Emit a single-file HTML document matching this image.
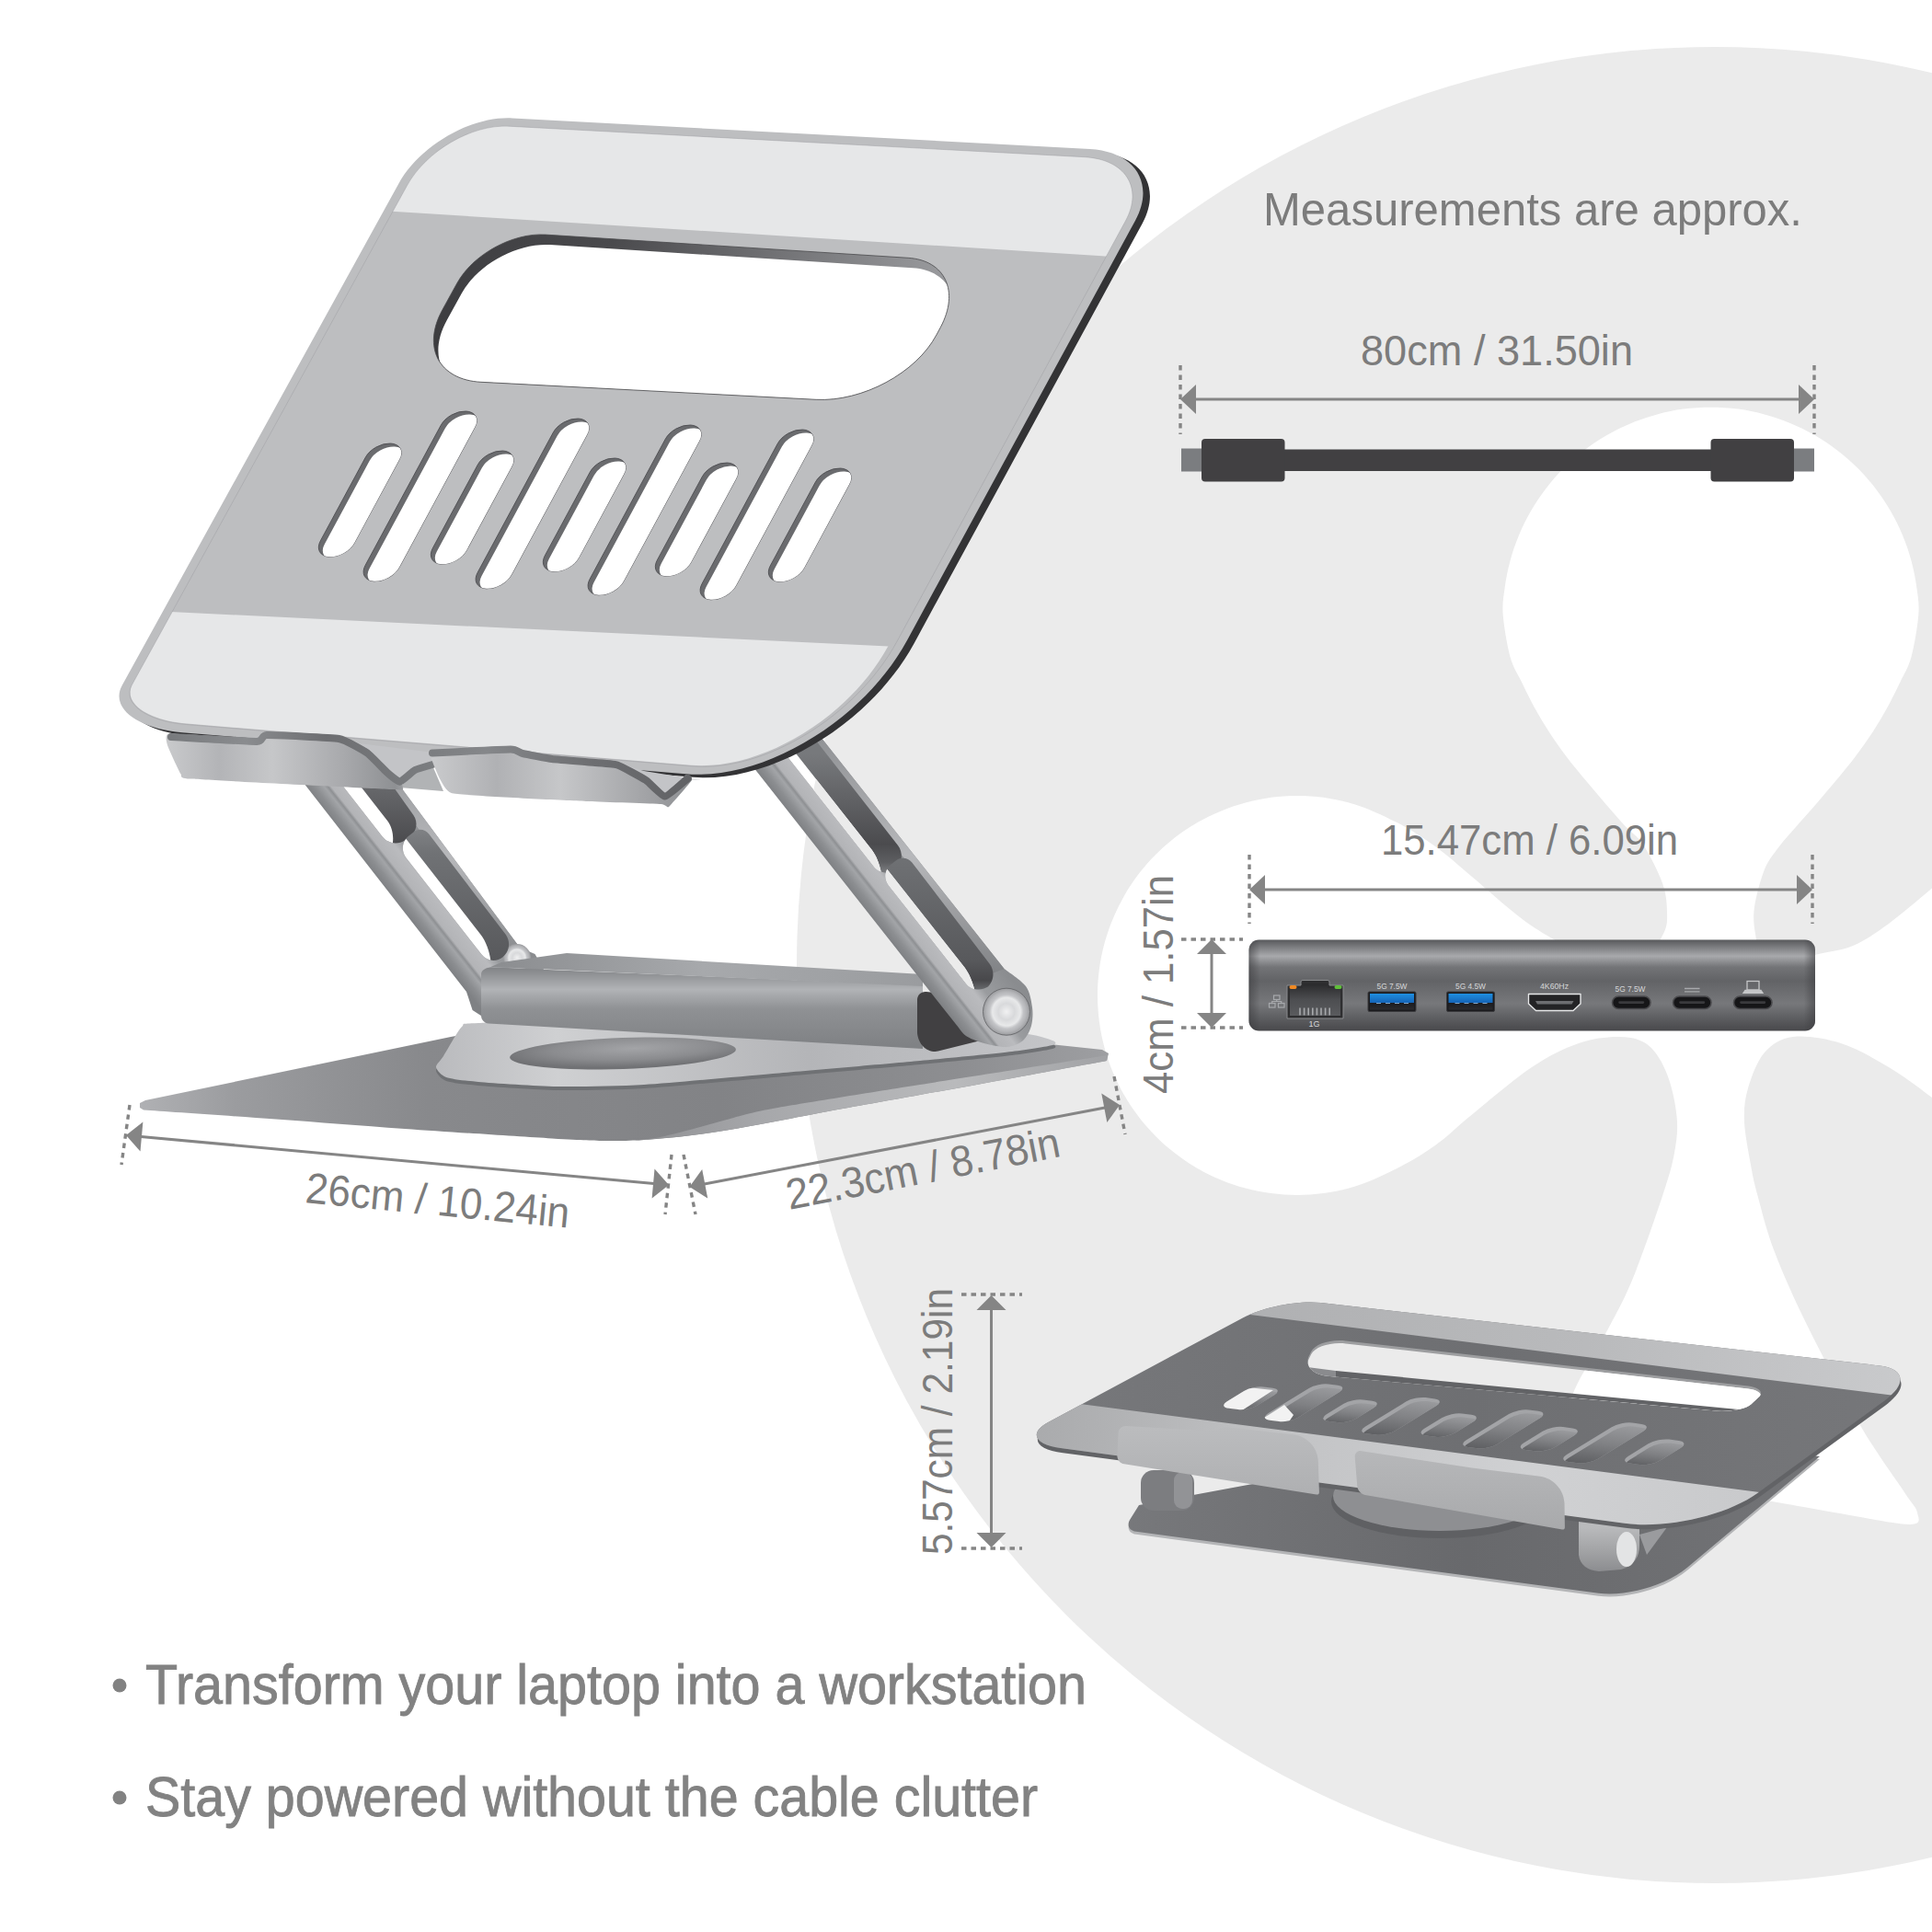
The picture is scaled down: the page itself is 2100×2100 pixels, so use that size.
<!DOCTYPE html>
<html><head><meta charset="utf-8"><title>Laptop stand dimensions</title>
<style>
html,body{margin:0;padding:0;background:#fff}
body{width:2100px;height:2100px;overflow:hidden;font-family:"Liberation Sans",sans-serif}
svg{display:block}
text{font-family:"Liberation Sans",sans-serif}
</style></head><body>
<svg width="2100" height="2100" viewBox="0 0 2100 2100">
<circle cx="1864" cy="1049" r="998" fill="#ebebeb"/>
<path d="M1633.7,668.5C1632.7,656 1634.3,648.8 1635.6,639C1636.9,629.3 1638.9,619.5 1641.4,610.1C1643.9,600.6 1647.1,591.2 1650.9,582.1C1654.6,573 1659,564.1 1664,555.6C1668.9,547.1 1674.4,538.8 1680.4,531C1686.3,523.2 1692.9,515.8 1699.8,508.8C1706.8,501.9 1714.2,495.3 1722,489.4C1729.8,483.4 1738.1,477.9 1746.6,473C1755.1,468 1764,463.6 1773.1,459.9C1782.2,456.1 1791.6,452.9 1801.1,450.4C1810.5,447.9 1820.3,445.9 1830,444.6C1839.8,443.3 1849.7,442.7 1859.5,442.7C1869.3,442.7 1879.2,443.3 1889,444.6C1898.7,445.9 1908.5,447.9 1917.9,450.4C1927.4,452.9 1936.8,456.1 1945.9,459.9C1955,463.6 1963.9,468 1972.4,473C1980.9,477.9 1989.2,483.4 1997,489.4C2004.8,495.3 2012.2,501.9 2019.2,508.8C2026.1,515.8 2032.7,523.2 2038.6,531C2044.6,538.8 2050.1,547.1 2055,555.6C2060,564.1 2064.4,573 2068.1,582.1C2071.9,591.2 2075.1,600.6 2077.6,610.1C2080.1,619.5 2082.1,629.3 2083.4,639C2084.7,648.8 2086.3,656 2085.3,668.5C2084.3,681 2080.8,701.9 2077.5,714C2074.2,726.1 2069.8,732 2065.6,741C2061.3,750 2056.9,759 2052,768C2047.1,777 2041.8,786 2036,795C2030.2,804 2023.7,813.1 2017,822C2010.3,830.9 2002.8,839.9 1995.6,848.6C1988.4,857.3 1981.2,865.7 1974,874C1966.8,882.3 1959.1,890.7 1952.4,898.4C1945.7,906.1 1939.7,912.2 1934,920C1928.3,927.8 1922.5,934 1918,945C1913.5,956 1908.7,974.3 1907,986C1905.3,997.7 1906.5,1006 1908,1015C1909.5,1024 1910.3,1034.2 1916,1040C1921.7,1045.8 1932.5,1050.3 1942,1050C1951.5,1049.7 1961,1041.7 1973,1038C1985,1034.3 2000.7,1033.7 2014,1028C2027.3,1022.3 2038.7,1014.4 2053,1004C2067.3,993.6 2082.2,980.4 2100,965.6C2117.8,950.8 2143.3,895.9 2160,915C2176.7,934.1 2200,1025.8 2200,1080C2200,1134.2 2176.7,1221.2 2160,1240C2143.3,1258.8 2117.8,1206.3 2100,1193C2082.2,1179.7 2069.5,1169.8 2053,1160C2036.5,1150.2 2018.3,1139.5 2001,1134C1983.7,1128.5 1962.8,1125.3 1949,1127C1935.2,1128.7 1926.2,1134.7 1918,1144C1909.8,1153.3 1903.7,1170.5 1900,1183C1896.3,1195.5 1895.5,1205.2 1896,1219C1896.5,1232.8 1900.6,1252.5 1903,1266C1905.4,1279.5 1906.3,1284.2 1910.6,1300C1914.9,1315.8 1919.8,1337 1929,1361C1938.2,1385 1950.3,1412.3 1966,1444C1981.7,1475.7 2005.7,1521.3 2023,1551C2040.3,1580.7 2059.8,1606.5 2070,1622C2080.2,1637.5 2083,1638.2 2084,1644C2085,1649.8 2090,1656.8 2076,1657C2062,1657.2 2025,1649.2 2000,1645C1975,1640.8 1959.3,1637.7 1926,1632C1892.7,1626.3 1833.5,1616.7 1800,1611C1766.5,1605.3 1742.2,1603.2 1725,1598C1707.8,1592.8 1699.7,1593.5 1697,1580C1694.3,1566.5 1702,1536.8 1709,1517C1716,1497.2 1728.3,1481.5 1739,1461C1749.7,1440.5 1761.7,1420.8 1773,1394C1784.3,1367.2 1799.2,1323.5 1807,1300C1814.8,1276.5 1817.4,1267.3 1820,1253C1822.6,1238.7 1823.9,1228.2 1822.6,1214C1821.3,1199.8 1817.2,1180.5 1812,1167.5C1806.8,1154.5 1800.1,1142.8 1791.5,1136C1782.9,1129.2 1773.1,1127.3 1760.5,1127C1747.9,1126.7 1731.9,1128.5 1716,1134C1700.1,1139.5 1684.3,1147.1 1665,1160C1645.7,1172.9 1617.5,1197.3 1600,1211.5C1582.5,1225.7 1573.6,1235.3 1560,1245C1546.4,1254.7 1534.1,1262.2 1518.5,1269.9C1502.9,1277.7 1484.2,1286.8 1466.2,1291.6C1448.1,1296.5 1428.7,1299 1410,1299C1391.3,1299 1371.9,1296.5 1353.8,1291.6C1335.8,1286.8 1317.7,1279.3 1301.5,1269.9C1285.3,1260.6 1269.8,1248.7 1256.6,1235.4C1243.3,1222.2 1231.4,1206.7 1222.1,1190.5C1212.7,1174.3 1205.2,1156.2 1200.4,1138.2C1195.5,1120.1 1193,1100.7 1193,1082C1193,1063.3 1195.5,1043.9 1200.4,1025.8C1205.2,1007.8 1212.7,989.7 1222.1,973.5C1231.4,957.3 1243.3,941.8 1256.6,928.6C1269.8,915.3 1285.3,903.4 1301.5,894.1C1317.7,884.7 1335.8,877.2 1353.8,872.4C1371.9,867.5 1391.3,865 1410,865C1428.7,865 1448.1,867.5 1466.2,872.4C1484.2,877.2 1502.9,886.1 1518.5,894.1C1534.1,902 1546.4,910.2 1560,920C1573.6,929.8 1584.7,940.2 1600,953C1615.3,965.8 1636.9,985.5 1652,997C1667.1,1008.5 1675.9,1013.5 1690.6,1022C1705.3,1030.5 1724.3,1044.2 1740,1048C1755.7,1051.8 1773.7,1050.5 1785,1045C1796.3,1039.5 1803.5,1023.9 1808,1015C1812.5,1006.1 1812.2,1000.7 1812,991.5C1811.8,982.3 1811.3,972.2 1807,960C1802.7,947.8 1792.7,928.3 1786,918C1779.3,907.7 1773.8,905.7 1767,898.4C1760.2,891.1 1752.6,882.3 1745.4,874C1738.2,865.7 1731,857.3 1723.8,848.6C1716.6,839.9 1709,830.9 1702.3,822C1695.6,813.1 1689.2,804 1683.4,795C1677.6,786 1672.2,777 1667.3,768C1662.4,759 1658.1,750 1653.8,741C1649.5,732 1644.8,726.1 1641.5,714C1638.2,701.9 1634.7,681 1633.7,668.5Z" fill="#fff"/>
<defs>
<linearGradient id="baseg" gradientUnits="userSpaceOnUse" x1="150" y1="1200" x2="1200" y2="1150">
 <stop offset="0" stop-color="#b0b1b4"/><stop offset="0.1" stop-color="#9b9c9f"/><stop offset="0.3" stop-color="#88898c"/><stop offset="0.6" stop-color="#828386"/><stop offset="0.85" stop-color="#8d8e91"/><stop offset="1" stop-color="#9d9ea1"/></linearGradient>
<linearGradient id="stripg" gradientUnits="userSpaceOnUse" x1="660" y1="1230" x2="1200" y2="1150">
 <stop offset="0" stop-color="#8a8b8e"/><stop offset="0.3" stop-color="#a6a7aa"/><stop offset="0.7" stop-color="#b9babc"/><stop offset="1" stop-color="#a2a3a6"/></linearGradient>
<linearGradient id="ttg" gradientUnits="userSpaceOnUse" x1="470" y1="1150" x2="1150" y2="1130">
 <stop offset="0" stop-color="#b9babd"/><stop offset="0.2" stop-color="#cfd0d2"/><stop offset="0.6" stop-color="#b4b5b8"/><stop offset="1" stop-color="#c4c5c8"/></linearGradient>
<radialGradient id="recg" cx="0.55" cy="0.35" r="0.6"><stop offset="0" stop-color="#a3a4a7"/><stop offset="0.6" stop-color="#8b8c8f"/><stop offset="1" stop-color="#707174"/></radialGradient>
<linearGradient id="barg" gradientUnits="userSpaceOnUse" x1="0" y1="1050" x2="0" y2="1135">
 <stop offset="0" stop-color="#7e8083"/><stop offset="0.3" stop-color="#b1b3b6"/><stop offset="0.55" stop-color="#8f9194"/><stop offset="1" stop-color="#808285"/></linearGradient>
<linearGradient id="bartop" gradientUnits="userSpaceOnUse" x1="530" y1="0" x2="1000" y2="0">
 <stop offset="0" stop-color="#8a8c8f"/><stop offset="0.5" stop-color="#a7a9ac"/><stop offset="1" stop-color="#9a9c9f"/></linearGradient>
<linearGradient id="armRg" gradientUnits="userSpaceOnUse" x1="934.8" y1="981" x2="995.8" y2="932.8">
 <stop offset="0" stop-color="#7f8184"/><stop offset="0.1" stop-color="#8c8e91"/><stop offset="0.21" stop-color="#a3a5a8"/><stop offset="0.25" stop-color="#8e9093"/><stop offset="0.285" stop-color="#b3b4b7"/><stop offset="0.47" stop-color="#babbbe"/><stop offset="0.6" stop-color="#9a9c9f"/><stop offset="1" stop-color="#8a8c8f"/></linearGradient>
<linearGradient id="armedge" gradientUnits="userSpaceOnUse" x1="0" y1="800" x2="0" y2="1060">
 <stop offset="0" stop-color="#909295"/><stop offset="0.5" stop-color="#b7b8bb"/><stop offset="1" stop-color="#808285"/></linearGradient>
<linearGradient id="slotdkA" gradientUnits="userSpaceOnUse" x1="0" y1="820" x2="0" y2="950">
 <stop offset="0" stop-color="#77797c"/><stop offset="0.75" stop-color="#4b4b4e"/><stop offset="0.9" stop-color="#5d5e61"/><stop offset="1" stop-color="#808285"/></linearGradient>
<linearGradient id="slotdkB" gradientUnits="userSpaceOnUse" x1="0" y1="900" x2="0" y2="1080">
 <stop offset="0" stop-color="#808285"/><stop offset="0.15" stop-color="#707275"/><stop offset="0.8" stop-color="#58595c"/><stop offset="0.92" stop-color="#48484b"/><stop offset="1" stop-color="#77797c"/></linearGradient>
<linearGradient id="armLg" gradientUnits="userSpaceOnUse" x1="430.6" y1="980" x2="491.6" y2="931.8">
 <stop offset="0" stop-color="#7f8184"/><stop offset="0.1" stop-color="#8c8e91"/><stop offset="0.21" stop-color="#a3a5a8"/><stop offset="0.25" stop-color="#8e9093"/><stop offset="0.285" stop-color="#b3b4b7"/><stop offset="0.47" stop-color="#babbbe"/><stop offset="0.6" stop-color="#9a9c9f"/><stop offset="1" stop-color="#8a8c8f"/></linearGradient>
<linearGradient id="slotdk" gradientUnits="userSpaceOnUse" x1="0" y1="820" x2="0" y2="1080">
 <stop offset="0" stop-color="#707275"/><stop offset="0.45" stop-color="#48484b"/><stop offset="0.5" stop-color="#77797c"/><stop offset="1" stop-color="#4c4c4f"/></linearGradient>
<radialGradient id="pivg" cx="0.5" cy="0.5" r="0.5"><stop offset="0" stop-color="#f1f1f2"/><stop offset="0.35" stop-color="#d8d9db"/><stop offset="0.6" stop-color="#e8e9ea"/><stop offset="0.72" stop-color="#c3c4c7"/><stop offset="0.85" stop-color="#b4b5b8"/><stop offset="1" stop-color="#9a9b9e"/></radialGradient>
<linearGradient id="hookg" gradientUnits="userSpaceOnUse" x1="180" y1="0" x2="760" y2="0">
 <stop offset="0" stop-color="#c9cacc"/><stop offset="0.1" stop-color="#b3b4b7"/><stop offset="0.2" stop-color="#c6c7c9"/><stop offset="0.33" stop-color="#a9aaad"/><stop offset="0.43" stop-color="#8e9093"/>
 <stop offset="0.5" stop-color="#c9cacc"/><stop offset="0.62" stop-color="#b0b1b4"/><stop offset="0.74" stop-color="#c6c7c9"/><stop offset="0.9" stop-color="#a2a3a6"/><stop offset="1" stop-color="#8a8c8f"/></linearGradient>
<linearGradient id="bandg" gradientUnits="userSpaceOnUse" x1="180" y1="0" x2="760" y2="0">
 <stop offset="0" stop-color="#77797c"/><stop offset="0.15" stop-color="#8a8c8f"/><stop offset="0.3" stop-color="#6d6e71"/><stop offset="0.45" stop-color="#77797c"/><stop offset="0.6" stop-color="#85878a"/><stop offset="0.8" stop-color="#6d6e71"/><stop offset="1" stop-color="#606164"/></linearGradient>
<linearGradient id="wallg" gradientUnits="userSpaceOnUse" x1="470" y1="0" x2="1030" y2="0">
 <stop offset="0" stop-color="#3d3d40"/><stop offset="0.35" stop-color="#4a4a4d"/><stop offset="1" stop-color="#9a9b9e"/></linearGradient>
</defs>
<path d="M152,1204L152,1199L158,1196L490,1127L700,1088L1198,1141L1205,1145L1203,1153C1185.8,1156.2 1133.8,1165.8 1100,1172C1066.2,1178.2 1033.3,1184 1000,1190C966.7,1196 926.7,1203.1 900,1208C873.3,1212.9 858.3,1216.1 840,1219.5C821.7,1222.9 806,1225.9 790,1228.5C774,1231.1 759,1233.2 744,1235C729,1236.8 714,1238.2 700,1239C686,1239.8 676.7,1240.2 660,1240C643.3,1239.8 636.7,1239.7 600,1237.5C563.3,1235.3 490,1230.5 440,1227C390,1223.5 347.3,1219.9 300,1216.5C252.7,1213.1 180,1208.2 156,1206.5Z" fill="url(#baseg)"/>
<path d="M1204,1147C1176.8,1151.3 1048.5,1171.3 1000,1179C951.5,1186.7 868,1199.9 840,1205C812,1210.1 802,1213.9 790,1217C778,1220.1 760,1225.4 750,1228C740,1230.6 723,1235 715,1236.5C707,1238 693.3,1239.1 690,1239.5L690,1239.5C691.7,1239.4 691,1239.8 700,1239C709,1238.2 729,1236.8 744,1235C759,1233.2 774,1231.1 790,1228.5C806,1225.9 821.7,1222.9 840,1219.5C858.3,1216.1 873.3,1212.9 900,1208C926.7,1203.1 966.7,1196 1000,1190C1033.3,1184 1066.2,1178.2 1100,1172C1133.8,1165.8 1185.8,1156.2 1203,1153Z" fill="url(#stripg)"/>
<path d="M474,1160C473.6,1157.3 478.7,1153.1 482,1148C485.3,1142.9 497.6,1120.2 502,1116C506.4,1111.8 496.9,1113.3 520,1112C543.1,1110.7 644,1104.3 700,1105C756,1105.7 952.2,1115.9 1000,1118C1047.8,1120.1 1093.2,1121.5 1110,1123C1126.8,1124.5 1140,1129.5 1144,1131C1148,1132.5 1149.1,1134.6 1144,1136C1138.9,1137.4 1116.8,1141 1100,1143C1083.2,1145 1030.3,1150.2 1000,1153C969.7,1155.8 875,1164 840,1167C805,1170 727.3,1177.4 700,1179C672.7,1180.6 627,1181.3 606,1181C585,1180.7 534.1,1177.2 520,1176C505.9,1174.8 490.4,1172.9 485,1171C479.6,1169.1 474.4,1162.7 474,1160Z" fill="#6f7174" transform="translate(0,4)"/>
<path d="M474,1160C473.6,1157.3 478.7,1153.1 482,1148C485.3,1142.9 497.6,1120.2 502,1116C506.4,1111.8 496.9,1113.3 520,1112C543.1,1110.7 644,1104.3 700,1105C756,1105.7 952.2,1115.9 1000,1118C1047.8,1120.1 1093.2,1121.5 1110,1123C1126.8,1124.5 1140,1129.5 1144,1131C1148,1132.5 1149.1,1134.6 1144,1136C1138.9,1137.4 1116.8,1141 1100,1143C1083.2,1145 1030.3,1150.2 1000,1153C969.7,1155.8 875,1164 840,1167C805,1170 727.3,1177.4 700,1179C672.7,1180.6 627,1181.3 606,1181C585,1180.7 534.1,1177.2 520,1176C505.9,1174.8 490.4,1172.9 485,1171C479.6,1169.1 474.4,1162.7 474,1160Z" fill="url(#ttg)"/>
<ellipse cx="677" cy="1145" rx="123" ry="17" fill="url(#recg)" transform="rotate(-2 677 1145)"/>
<path d="M290.3,800L507,1078L513.6,1098L526,1106L600,1070L581.5,1037L565,1030L394.4,800Z" fill="url(#armLg)"/>
<path d="M376.3,800L555.6,1030L565,1030L394.4,800Z" fill="url(#armedge)" />
<circle cx="562" cy="1041" r="15" fill="url(#pivg)"/>
<path d="M353.7,830L409.7,830L449.4,886.1C454.8,893.8 453,904.3 445.3,909.7L440.1,913.3C432.4,918.7 421.5,917 415.7,909.6Z" fill="url(#slotdkA)"/><path d="M441.5,932.4C435.7,925 437,914.3 444.4,908.5L449.5,904.4C454.7,900.3 462.2,901.3 466.2,906.5L549.5,1015.5C555.2,1023 554,1033.9 546.8,1040L546.9,1040C539.7,1046.1 529.3,1045 523.5,1037.6Z" fill="url(#slotdkB)"/>
<clipPath id="cLA"><path d="M353.7,830L409.7,830L449.4,886.1C454.8,893.8 453,904.3 445.3,909.7L440.1,913.3C432.4,918.7 421.5,917 415.7,909.6Z"/></clipPath><clipPath id="cLB"><path d="M441.5,932.4C435.7,925 437,914.3 444.4,908.5L449.5,904.4C454.7,900.3 462.2,901.3 466.2,906.5L549.5,1015.5C555.2,1023 554,1033.9 546.8,1040L546.9,1040C539.7,1046.1 529.3,1045 523.5,1037.6Z"/></clipPath>
<g clip-path="url(#cLA)"><path d="M335.9,820L364.9,820L421.2,892.2C428,900.9 429.2,915.9 424,925.6L421.6,930Z" fill="#fff"/></g>
<g clip-path="url(#cLB)"><path d="M408.2,900L424.4,890L522.8,1016.2C529.6,1024.9 534.4,1040.9 533.6,1051.9L533,1060Z" fill="#fff"/></g>
<path d="M523,1059C523,1054.6 528.4,1051.2 535,1051.5L1003,1071L1003,1140L531,1112.5C526.6,1112.2 523,1108.4 523,1104Z" fill="url(#barg)"/>
<path d="M531,1052L545,1046L616,1036L1003,1059L1003,1072L537,1051Z" fill="url(#bartop)"/>
<path d="M997,1087C997,1081.5 1001.5,1077.5 1006.9,1078.1L1070,1085L1070,1130L1019.7,1142.6C1014.3,1143.9 1007.1,1141.6 1003.5,1137.4L1002.2,1136C999.3,1132.7 997,1126.4 997,1122Z" fill="#414042"/>
<path d="M784.3,790L1040,1114.6C1041.5,1116.3 1045.8,1123.2 1050,1126C1054.2,1128.8 1061.4,1131.7 1068,1133.5C1074.6,1135.3 1087.4,1138.4 1094,1138C1100.6,1137.6 1108,1134.5 1112,1131C1116,1127.5 1119.5,1120.4 1121,1115C1122.5,1109.6 1122.9,1101.5 1122,1095C1121.1,1088.5 1119.6,1078.3 1115,1072C1110.4,1065.7 1095,1055.8 1091.5,1053L883.3,790Z" fill="url(#armRg)"/>
<path d="M873.3,790L1078.5,1058L1091.5,1053L883.3,790Z" fill="url(#armedge)"/>
<path d="M830.3,790L875.3,790L975.9,918.8C982,926.6 981,938.4 973.5,945L974.6,944C967.1,950.6 956.1,949.7 950,941.9Z" fill="url(#slotdkA)"/><path d="M966.1,962.4C960.3,955 961.7,944.5 969.3,938.9L974.4,935.1C979.7,931.2 987.3,932.3 991.3,937.5L1075.7,1047.7C1081.7,1055.6 1080.4,1067.1 1072.7,1073.5L1075.1,1071.5C1067.4,1077.9 1056.2,1076.7 1050,1068.9Z" fill="url(#slotdkB)"/>
<clipPath id="cRA"><path d="M830.3,790L875.3,790L975.9,918.8C982,926.6 981,938.4 973.5,945L974.6,944C967.1,950.6 956.1,949.7 950,941.9Z"/></clipPath><clipPath id="cRB"><path d="M966.1,962.4C960.3,955 961.7,944.5 969.3,938.9L974.4,935.1C979.7,931.2 987.3,932.3 991.3,937.5L1075.7,1047.7C1081.7,1055.6 1080.4,1067.1 1072.7,1073.5L1075.1,1071.5C1067.4,1077.9 1056.2,1076.7 1050,1068.9Z"/></clipPath>
<g clip-path="url(#cRA)"><clipPath id="cRA2"><path d="M812.4,780L834.4,780L947.3,923.3C954.2,932 959.2,947.9 958.5,959L958.2,965Z"/></clipPath><g clip-path="url(#cRA2)"><rect x="700" y="700" width="500" height="500" fill="#fff"/><circle cx="1864" cy="1049" r="998" fill="#ebebeb"/></g></g>
<g clip-path="url(#cRB)"><clipPath id="cRB2"><path d="M930.6,930L944.7,920L1048.2,1051.3C1055,1060 1060.6,1076 1060.6,1087L1060.6,1095Z"/></clipPath><g clip-path="url(#cRB2)"><rect x="700" y="700" width="500" height="500" fill="#fff"/><circle cx="1864" cy="1049" r="998" fill="#ebebeb"/></g></g>
<circle cx="1094" cy="1099.7" r="25.5" fill="url(#pivg)" stroke="#6d6e71" stroke-width="1"/>
<path d="M433,200.2C456.2,158.1 511.7,126 556.9,128.4L1184.7,162C1233.8,164.7 1255.9,199.4 1234,239.7L986,695.9C938.5,783.2 830.8,848.3 745.5,841.3L198.3,796.2C148.8,792.1 119.4,769.2 132.7,745Z" fill="#333335" transform="translate(7.5,3.5)"/>
<path d="M433,200.2C456.2,158.1 511.7,126 556.9,128.4L1184.7,162C1233.8,164.7 1255.9,199.4 1234,239.7L986,695.9C938.5,783.2 830.8,848.3 745.5,841.3L198.3,796.2C148.8,792.1 119.4,769.2 132.7,745Z" fill="#bdbec0"/>
<clipPath id="cpl"><path d="M442.5,201.6C463.3,163.9 512.8,135 553.1,137.2L1179,170.7C1223.1,173.1 1243.1,204.1 1223.5,240L975.1,697C930.8,778.5 831.1,839.3 752.4,832.8L202.9,787.5C158.9,783.9 132.3,764.5 143.5,744.2Z"/></clipPath>
<clipPath id="cpl2"><path d="M442.5,201.6C463.3,163.9 512.8,135 553.1,137.2L1172.4,170.4C1216.5,172.8 1237.3,202.2 1218.8,236.2L965.3,702.5C923.1,780.1 827.3,838 751.3,831.7L203.4,786.6C159.4,783 132.8,763.5 144,743.2Z"/></clipPath>
<g clip-path="url(#cpl)"><path d="M300,0L1400,0L1400,291L1194,278L430,230L300,222Z" fill="#e6e7e8"/></g>
<g clip-path="url(#cpl2)"><path d="M50,658.5L185,665L1100,709L1100,900L50,900Z" fill="#e6e7e8"/></g>
<path d="M442.5,201.6C463.3,163.9 512.8,135 553.1,137.2L1179,170.7C1223.1,173.1 1243.1,204.1 1223.5,240L975.1,697C930.8,778.5 831.1,839.3 752.4,832.8L202.9,787.5C158.9,783.9 132.3,764.5 143.5,744.2Z" fill="none" stroke="#9b9c9f" stroke-width="1" opacity=".45"/>
<path d="M496.7,308C514,276.5 557,252.9 592.9,255.1L987.1,280.3C1027.4,282.9 1043.2,316.6 1022.4,355.6L1017.9,364C995.9,405.4 937.3,436.9 887.1,434.3L522.9,415.3C477.1,412.9 458.3,377.7 481,336.5Z" fill="url(#wallg)"/>
<clipPath id="cbig"><path d="M496.7,308C514,276.5 557,252.9 592.9,255.1L987.1,280.3C1027.4,282.9 1043.2,316.6 1022.4,355.6L1017.9,364C995.9,405.4 937.3,436.9 887.1,434.3L522.9,415.3C477.1,412.9 458.3,377.7 481,336.5Z"/></clipPath><g clip-path="url(#cbig)"><path d="M496.7,308C514,276.5 557,252.9 592.9,255.1L987.1,280.3C1027.4,282.9 1043.2,316.6 1022.4,355.6L1017.9,364C995.9,405.4 937.3,436.9 887.1,434.3L522.9,415.3C477.1,412.9 458.3,377.7 481,336.5Z" fill="#fff" transform="translate(5,11)"/></g>
<g fill="#6a6b6e" stroke="#4a4a4d" stroke-width="0.8"><rect x="-18.5" y="0" width="37" height="210" rx="18.5" transform="matrix(1 0.054 -0.475 0.88 506.5 447)"/><rect x="-18.5" y="0" width="37" height="210" rx="18.5" transform="matrix(1 0.054 -0.475 0.88 628.5 455)"/><rect x="-18.5" y="0" width="37" height="210" rx="18.5" transform="matrix(1 0.054 -0.475 0.88 750.5 462)"/><rect x="-18.5" y="0" width="37" height="210" rx="18.5" transform="matrix(1 0.054 -0.475 0.88 872.5 467)"/><rect x="-18.5" y="0" width="37" height="140" rx="18.5" transform="matrix(1 0.054 -0.475 0.88 424.5 482)"/><rect x="-18.5" y="0" width="37" height="140" rx="18.5" transform="matrix(1 0.054 -0.475 0.88 546.5 490)"/><rect x="-18.5" y="0" width="37" height="140" rx="18.5" transform="matrix(1 0.054 -0.475 0.88 668.5 498)"/><rect x="-18.5" y="0" width="37" height="140" rx="18.5" transform="matrix(1 0.054 -0.475 0.88 790.5 503)"/><rect x="-18.5" y="0" width="37" height="140" rx="18.5" transform="matrix(1 0.054 -0.475 0.88 913.5 509)"/></g>
<clipPath id="csl"><rect x="-18.5" y="0" width="37" height="210" rx="18.5" transform="matrix(1 0.054 -0.475 0.88 506.5 447)"/><rect x="-18.5" y="0" width="37" height="210" rx="18.5" transform="matrix(1 0.054 -0.475 0.88 628.5 455)"/><rect x="-18.5" y="0" width="37" height="210" rx="18.5" transform="matrix(1 0.054 -0.475 0.88 750.5 462)"/><rect x="-18.5" y="0" width="37" height="210" rx="18.5" transform="matrix(1 0.054 -0.475 0.88 872.5 467)"/><rect x="-18.5" y="0" width="37" height="140" rx="18.5" transform="matrix(1 0.054 -0.475 0.88 424.5 482)"/><rect x="-18.5" y="0" width="37" height="140" rx="18.5" transform="matrix(1 0.054 -0.475 0.88 546.5 490)"/><rect x="-18.5" y="0" width="37" height="140" rx="18.5" transform="matrix(1 0.054 -0.475 0.88 668.5 498)"/><rect x="-18.5" y="0" width="37" height="140" rx="18.5" transform="matrix(1 0.054 -0.475 0.88 790.5 503)"/><rect x="-18.5" y="0" width="37" height="140" rx="18.5" transform="matrix(1 0.054 -0.475 0.88 913.5 509)"/></clipPath><g clip-path="url(#csl)"><g fill="#fff" transform="translate(4.5,3.5)"><rect x="-18.5" y="0" width="37" height="210" rx="18.5" transform="matrix(1 0.054 -0.475 0.88 506.5 447)"/><rect x="-18.5" y="0" width="37" height="210" rx="18.5" transform="matrix(1 0.054 -0.475 0.88 628.5 455)"/><rect x="-18.5" y="0" width="37" height="210" rx="18.5" transform="matrix(1 0.054 -0.475 0.88 750.5 462)"/><rect x="-18.5" y="0" width="37" height="210" rx="18.5" transform="matrix(1 0.054 -0.475 0.88 872.5 467)"/><rect x="-18.5" y="0" width="37" height="140" rx="18.5" transform="matrix(1 0.054 -0.475 0.88 424.5 482)"/><rect x="-18.5" y="0" width="37" height="140" rx="18.5" transform="matrix(1 0.054 -0.475 0.88 546.5 490)"/><rect x="-18.5" y="0" width="37" height="140" rx="18.5" transform="matrix(1 0.054 -0.475 0.88 668.5 498)"/><rect x="-18.5" y="0" width="37" height="140" rx="18.5" transform="matrix(1 0.054 -0.475 0.88 790.5 503)"/><rect x="-18.5" y="0" width="37" height="140" rx="18.5" transform="matrix(1 0.054 -0.475 0.88 913.5 509)"/></g></g>
<path d="M496.7,308C514,276.5 557,252.9 592.9,255.1L987.1,280.3C1027.4,282.9 1043.2,316.6 1022.4,355.6L1017.9,364C995.9,405.4 937.3,436.9 887.1,434.3L522.9,415.3C477.1,412.9 458.3,377.7 481,336.5Z" fill="none" stroke="#4a4a4d" stroke-width="0.8"/>
<path d="M390,808L472,818L472,832L451,838L436,852L420,839L399.5,818.7Z" fill="#c3c4c7"/>
<path d="M434,856L451,838L470,832L482,860Z" fill="#b1b3b5"/>
<path d="M184,797.5C189.7,797.1 273.2,802.6 279.4,802.5C285.6,802.4 284.6,795.7 289.8,795.5C295,795.3 361.9,798.4 368.4,799.5C374.9,800.6 397.9,812.9 401,815C404.1,817.1 420,834 422,836C424,838 435.1,848.7 436,850C436.9,851.3 438.6,857.5 438,858C437.4,858.5 439.5,858.7 426,858C412.5,857.3 220.4,847.6 207,846.6C193.6,845.6 198.1,843.6 196.6,841.5C195.1,839.4 182.7,812.6 182,810C181.3,807.4 178.3,797.9 184,797.5Z" fill="url(#hookg)"/>
<path d="M186,801C192.2,801.3 272.5,806.1 279.4,806C286.3,805.9 283.9,799.2 289.8,799C295.7,798.8 361.1,801.7 368.4,803C375.7,804.3 396.1,816.3 399.5,818.7C402.9,821.1 417.7,836.9 420,839C422.3,841.1 432.6,849.8 434.7,849.7C436.8,849.6 448.6,838.2 451,837C453.4,835.8 468.7,831.4 470,831" fill="none" stroke="url(#bandg)" stroke-width="8" stroke-linejoin="round" stroke-linecap="round"/>
<path d="M660,826L700,838L762,848L748,847L723,867L702,849L671,832Z" fill="#c3c4c7"/>
<path d="M467.8,815C472.9,814.4 549.2,811 555,811C560.8,811 565.4,814.4 568,815C570.6,815.6 595.8,820.4 600,821C604.2,821.6 635.9,824.1 640,824.5C644.1,824.9 667.2,826.3 671,827.5C674.8,828.7 702,843 705,845C708,847 720.6,862.2 723,862C725.4,861.8 744.3,842.8 746,842C747.7,841.2 753.1,846 752,848C750.9,850 728.9,875.5 727,877C725.1,878.5 723.8,874.4 718.7,874C713.6,873.6 653.3,871.7 640,871C626.7,870.3 500.6,864.9 490.6,862C480.6,859.1 469.1,824.7 467.8,822C466.5,819.3 462.7,815.6 467.8,815Z" fill="url(#hookg)"/>
<path d="M470,818.5C475.7,818.2 548.5,814.5 555,814.5C561.5,814.5 565,818.3 568,819C571,819.7 595.2,824.4 600,825C604.8,825.6 635.3,828 640,828.4C644.7,828.8 666.9,830.2 671,831.5C675.1,832.8 698.5,845.7 702,848C705.5,850.3 719.8,865.7 722.8,865.6C725.8,865.5 746,847.3 747.7,846" fill="none" stroke="url(#bandg)" stroke-width="8" stroke-linejoin="round" stroke-linecap="round"/>
<rect x="1284" y="487.5" width="24" height="25" fill="#7b7d80"/><rect x="1948" y="487.5" width="24" height="25" fill="#7b7d80"/>
<rect x="1390" y="488.5" width="480" height="23.5" fill="#414042"/>
<rect x="1306" y="477" width="90.5" height="46.5" rx="4" fill="#414042"/><rect x="1859.5" y="477" width="90.5" height="46.5" rx="4" fill="#414042"/>
<defs><linearGradient id="dockg" x1="0" y1="0" x2="0" y2="1">
<stop offset="0" stop-color="#58595c"/><stop offset="0.18" stop-color="#a8a9ac"/><stop offset="0.3" stop-color="#737477"/><stop offset="0.45" stop-color="#626366"/><stop offset="0.7" stop-color="#77787b"/><stop offset="0.86" stop-color="#5d5e61"/><stop offset="1" stop-color="#48484b"/></linearGradient><linearGradient id="dockh" x1="0" y1="0" x2="1" y2="0"><stop offset="0" stop-color="#3a3a3d" stop-opacity=".55"/><stop offset="0.02" stop-color="#3a3a3d" stop-opacity="0"/><stop offset="0.98" stop-color="#3a3a3d" stop-opacity="0"/><stop offset="1" stop-color="#3a3a3d" stop-opacity=".55"/></linearGradient></defs>
<rect x="1357.5" y="1021.5" width="615.5" height="99" rx="11" fill="url(#dockg)"/><rect x="1357.5" y="1021.5" width="615.5" height="99" rx="11" fill="url(#dockh)"/>
<defs>
<linearGradient id="usbb" x1="0" y1="0" x2="0" y2="1"><stop offset="0" stop-color="#1f8fe0"/><stop offset="0.55" stop-color="#1565b8"/><stop offset="0.56" stop-color="#1b1b1e"/><stop offset="1" stop-color="#2b2b2e"/></linearGradient>
<linearGradient id="rjg" x1="0" y1="0" x2="0" y2="1"><stop offset="0" stop-color="#2a2a2c"/><stop offset="0.5" stop-color="#4d4e51"/><stop offset="1" stop-color="#5a5b5e"/></linearGradient>
</defs>
<g fill="none" stroke="#a7a9ac" stroke-width="1.2"><rect x="1384.5" y="1082" width="6.5" height="4.5"/><rect x="1379.5" y="1090.5" width="6.5" height="4.5"/><rect x="1389.5" y="1090.5" width="6.5" height="4.5"/><path d="M1387.7,1086.5V1088.5M1382.7,1090.5V1088.5H1392.7V1090.5"/></g>
<path d="M1399,1071H1414V1067Q1414,1065.5 1416,1065.5H1443Q1445,1065.5 1445,1067V1071H1460V1107H1399Z" fill="#2e2e30" stroke="#8a8b8e" stroke-width="1"/>
<path d="M1402,1074H1416V1069.5H1443V1074H1457V1104H1402Z" fill="url(#rjg)"/>
<g stroke="#a7a9ac" stroke-width="1.6"><line x1="1413" y1="1095.5" x2="1413" y2="1103.5"/><line x1="1417.6" y1="1095.5" x2="1417.6" y2="1103.5"/><line x1="1422.2" y1="1095.5" x2="1422.2" y2="1103.5"/><line x1="1426.8" y1="1095.5" x2="1426.8" y2="1103.5"/><line x1="1431.4" y1="1095.5" x2="1431.4" y2="1103.5"/><line x1="1436" y1="1095.5" x2="1436" y2="1103.5"/><line x1="1440.6" y1="1095.5" x2="1440.6" y2="1103.5"/><line x1="1445.2" y1="1095.5" x2="1445.2" y2="1103.5"/></g>
<rect x="1401.5" y="1071" width="8" height="4" rx="2" fill="#f08a24"/><rect x="1450.5" y="1071" width="8" height="4" rx="2" fill="#5fbf3a"/>
<text x="1428.5" y="1116" font-size="9" fill="#d6d7d9" text-anchor="middle">1G</text>
<rect x="1487" y="1078" width="52" height="21.5" rx="1.5" fill="#1b1b1e" stroke="#3a3a3d" stroke-width="1"/>
<rect x="1489" y="1080" width="48" height="17.5" fill="url(#usbb)"/>
<path d="M1496,1090.5h5m5,0h5m5,0h5m5,0h5" stroke="#9ec9f0" stroke-width="1.2" opacity=".8"/>
<text x="1513" y="1075" font-size="9.5" fill="#d6d7d9" text-anchor="middle" textLength="33" lengthAdjust="spacingAndGlyphs">5G 7.5W</text>
<rect x="1572.5" y="1078" width="52" height="21.5" rx="1.5" fill="#1b1b1e" stroke="#3a3a3d" stroke-width="1"/>
<rect x="1574.5" y="1080" width="48" height="17.5" fill="url(#usbb)"/>
<path d="M1581.5,1090.5h5m5,0h5m5,0h5m5,0h5" stroke="#9ec9f0" stroke-width="1.2" opacity=".8"/>
<text x="1598.5" y="1075" font-size="9.5" fill="#d6d7d9" text-anchor="middle" textLength="33" lengthAdjust="spacingAndGlyphs">5G 4.5W</text>
<path d="M1661.5,1080.5H1718V1091L1710,1098.5H1669.5L1661.5,1091Z" fill="#232325" stroke="#e6e7e8" stroke-width="1.4" stroke-linejoin="round"/>
<path d="M1669,1088H1710.5L1708.5,1091.5H1671Z" fill="#6d6e71"/>
<text x="1689.5" y="1075" font-size="9.5" fill="#d6d7d9" text-anchor="middle" textLength="31" lengthAdjust="spacingAndGlyphs">4K60Hz</text>
<rect x="1752.5" y="1083" width="41.5" height="13.5" rx="6.7" fill="#161618" stroke="#4a4a4d" stroke-width="1.6"/>
<rect x="1759.2" y="1088.3" width="28" height="2.6" rx="1.3" fill="#3a3a3d"/>
<rect x="1818.5" y="1083" width="41.5" height="13.5" rx="6.7" fill="#161618" stroke="#4a4a4d" stroke-width="1.6"/>
<rect x="1825.2" y="1088.3" width="28" height="2.6" rx="1.3" fill="#3a3a3d"/>
<rect x="1884.5" y="1083" width="41.5" height="13.5" rx="6.7" fill="#161618" stroke="#4a4a4d" stroke-width="1.6"/>
<rect x="1891.2" y="1088.3" width="28" height="2.6" rx="1.3" fill="#3a3a3d"/>
<text x="1772" y="1078" font-size="9.5" fill="#d6d7d9" text-anchor="middle" textLength="33" lengthAdjust="spacingAndGlyphs">5G 7.5W</text>
<path d="M1831,1074.5H1847.5M1831,1077.8H1847.5" stroke="#a7a9ac" stroke-width="1.3"/>
<g fill="none" stroke="#c5c6c8" stroke-width="1.3"><rect x="1899" y="1066.5" width="13" height="9.5"/><path d="M1895,1079.3H1916L1914,1076.5H1897Z" fill="#c5c6c8"/></g>
<defs>
<linearGradient id="fbase" gradientUnits="userSpaceOnUse" x1="1230" y1="1650" x2="1960" y2="1650">
 <stop offset="0" stop-color="#77787b"/><stop offset="0.5" stop-color="#68696c"/><stop offset="1" stop-color="#727376"/></linearGradient>
<linearGradient id="fmid" gradientUnits="userSpaceOnUse" x1="1130" y1="1500" x2="2070" y2="1560">
 <stop offset="0" stop-color="#77787b"/><stop offset="0.5" stop-color="#6e6f72"/><stop offset="1" stop-color="#76777a"/></linearGradient>
<linearGradient id="fback" gradientUnits="userSpaceOnUse" x1="1380" y1="1420" x2="2070" y2="1500">
 <stop offset="0" stop-color="#b0b1b3"/><stop offset="0.5" stop-color="#b9babc"/><stop offset="1" stop-color="#c9cacc"/></linearGradient>
<linearGradient id="ffront" gradientUnits="userSpaceOnUse" x1="1120" y1="1560" x2="1900" y2="1640">
 <stop offset="0" stop-color="#a9aaac"/><stop offset="0.35" stop-color="#c2c3c5"/><stop offset="0.7" stop-color="#d0d1d3"/><stop offset="1" stop-color="#c9cacc"/></linearGradient>
<linearGradient id="fhook" gradientUnits="userSpaceOnUse" x1="0" y1="1550" x2="0" y2="1660">
 <stop offset="0" stop-color="#bbbcbe"/><stop offset="0.5" stop-color="#b2b3b5"/><stop offset="1" stop-color="#a9aaac"/></linearGradient>
<linearGradient id="fslot" gradientUnits="userSpaceOnUse" x1="0" y1="1500" x2="0" y2="1595">
 <stop offset="0" stop-color="#96979a"/><stop offset="0.5" stop-color="#7e7f82"/><stop offset="1" stop-color="#5c5d60"/></linearGradient>
<linearGradient id="fslot2" x1="0" y1="0" x2="0" y2="1"><stop offset="0" stop-color="#999a9d"/><stop offset="0.45" stop-color="#808184"/><stop offset="1" stop-color="#595a5d"/></linearGradient>
<linearGradient id="froll" gradientUnits="userSpaceOnUse" x1="0" y1="1660" x2="0" y2="1710">
 <stop offset="0" stop-color="#b9babc"/><stop offset="0.5" stop-color="#a3a4a6"/><stop offset="1" stop-color="#8a8b8e"/></linearGradient>
</defs>
<path d="M1238,1636L1228.5,1651.2C1224.3,1657.7 1227.2,1663.8 1234.9,1664.8L1737.5,1731.7C1767.6,1735.8 1810.9,1723.2 1834.1,1703.7L1978,1583L1700,1550Z" fill="#b4b5b7" transform="translate(0,3)"/>
<path d="M1238,1636L1228.5,1651.2C1224.3,1657.7 1227.2,1663.8 1234.9,1664.8L1737.5,1731.7C1767.6,1735.8 1810.9,1723.2 1834.1,1703.7L1978,1583L1700,1550Z" fill="url(#fbase)"/>
<ellipse cx="1565" cy="1632" rx="118" ry="40" fill="#5f6063"/><ellipse cx="1565" cy="1626" rx="116" ry="38" fill="#8e8f92"/>
<rect x="1240" y="1598" width="58" height="44" rx="14" fill="#7c7d80"/><rect x="1276" y="1600" width="20" height="40" rx="9" fill="#929396"/>
<path d="M1716,1650L1716,1690Q1718,1706 1738,1708L1762,1706Q1782,1700 1782,1680L1782,1650Z" fill="url(#froll)"/><ellipse cx="1768" cy="1684" rx="11" ry="19" fill="#e3e4e5"/>
<path d="M1782,1668L1812,1660L1790,1690Z" fill="#9a9b9e"/>
<path d="M1351.3,1432.3C1373.2,1420.5 1411,1413.3 1435.7,1416L2043.3,1484.4C2070.8,1487.5 2073.1,1504.5 2048.5,1522.4L1910.6,1622.8C1877.1,1647.2 1812.3,1662 1765.7,1655.8L1154.5,1574.3C1124.4,1570.3 1117.8,1557.5 1139.7,1545.7Z" fill="#626366" transform="translate(1,5)"/>
<path d="M1351.3,1432.3C1373.2,1420.5 1411,1413.3 1435.7,1416L2043.3,1484.4C2070.8,1487.5 2073.1,1504.5 2048.5,1522.4L1910.6,1622.8C1877.1,1647.2 1812.3,1662 1765.7,1655.8L1154.5,1574.3C1124.4,1570.3 1117.8,1557.5 1139.7,1545.7Z" fill="url(#fmid)"/>
<clipPath id="cfp"><path d="M1351.3,1432.3C1373.2,1420.5 1411,1413.3 1435.7,1416L2043.3,1484.4C2070.8,1487.5 2073.1,1504.5 2048.5,1522.4L1910.6,1622.8C1877.1,1647.2 1812.3,1662 1765.7,1655.8L1154.5,1574.3C1124.4,1570.3 1117.8,1557.5 1139.7,1545.7Z"/></clipPath>
<g clip-path="url(#cfp)">
<path d="M1300,1380L2150,1380L2150,1528.4L1358.8,1429L1300,1421.6Z" fill="url(#fback)"/>
<path d="M1050,1510L1185.4,1527.5L1902.8,1620.7L2000,1633.3L2000,1720L1050,1720Z" fill="url(#ffront)"/>
</g>
<clipPath id="cfs"><path d="M1425.2,1469.1C1429.5,1460.8 1446.3,1455.5 1462.8,1457.4L1900.1,1506.5C1912.2,1507.9 1917.4,1513.3 1911.8,1518.5L1903.2,1526.5C1897.6,1531.7 1879.6,1534.8 1863.1,1533.3L1442.9,1495.7C1426.4,1494.2 1417.5,1484.2 1423,1473.4Z"/></clipPath>
<path d="M1425.2,1469.1C1429.5,1460.8 1446.3,1455.5 1462.8,1457.4L1900.1,1506.5C1912.2,1507.9 1917.4,1513.3 1911.8,1518.5L1903.2,1526.5C1897.6,1531.7 1879.6,1534.8 1863.1,1533.3L1442.9,1495.7C1426.4,1494.2 1417.5,1484.2 1423,1473.4Z" fill="#9d9ea0"/>
<g clip-path="url(#cfs)"><g transform="translate(0,3)"><path d="M1425.2,1469.1C1429.5,1460.8 1446.3,1455.5 1462.8,1457.4L1900.1,1506.5C1912.2,1507.9 1917.4,1513.3 1911.8,1518.5L1903.2,1526.5C1897.6,1531.7 1879.6,1534.8 1863.1,1533.3L1442.9,1495.7C1426.4,1494.2 1417.5,1484.2 1423,1473.4Z" fill="#ebebeb"/><clipPath id="cfs2"><path d="M1425.2,1469.1C1429.5,1460.8 1446.3,1455.5 1462.8,1457.4L1900.1,1506.5C1912.2,1507.9 1917.4,1513.3 1911.8,1518.5L1903.2,1526.5C1897.6,1531.7 1879.6,1534.8 1863.1,1533.3L1442.9,1495.7C1426.4,1494.2 1417.5,1484.2 1423,1473.4Z"/></clipPath><g clip-path="url(#cfs2)"><path d="M1633.7,668.5C1632.7,656 1634.3,648.8 1635.6,639C1636.9,629.3 1638.9,619.5 1641.4,610.1C1643.9,600.6 1647.1,591.2 1650.9,582.1C1654.6,573 1659,564.1 1664,555.6C1668.9,547.1 1674.4,538.8 1680.4,531C1686.3,523.2 1692.9,515.8 1699.8,508.8C1706.8,501.9 1714.2,495.3 1722,489.4C1729.8,483.4 1738.1,477.9 1746.6,473C1755.1,468 1764,463.6 1773.1,459.9C1782.2,456.1 1791.6,452.9 1801.1,450.4C1810.5,447.9 1820.3,445.9 1830,444.6C1839.8,443.3 1849.7,442.7 1859.5,442.7C1869.3,442.7 1879.2,443.3 1889,444.6C1898.7,445.9 1908.5,447.9 1917.9,450.4C1927.4,452.9 1936.8,456.1 1945.9,459.9C1955,463.6 1963.9,468 1972.4,473C1980.9,477.9 1989.2,483.4 1997,489.4C2004.8,495.3 2012.2,501.9 2019.2,508.8C2026.1,515.8 2032.7,523.2 2038.6,531C2044.6,538.8 2050.1,547.1 2055,555.6C2060,564.1 2064.4,573 2068.1,582.1C2071.9,591.2 2075.1,600.6 2077.6,610.1C2080.1,619.5 2082.1,629.3 2083.4,639C2084.7,648.8 2086.3,656 2085.3,668.5C2084.3,681 2080.8,701.9 2077.5,714C2074.2,726.1 2069.8,732 2065.6,741C2061.3,750 2056.9,759 2052,768C2047.1,777 2041.8,786 2036,795C2030.2,804 2023.7,813.1 2017,822C2010.3,830.9 2002.8,839.9 1995.6,848.6C1988.4,857.3 1981.2,865.7 1974,874C1966.8,882.3 1959.1,890.7 1952.4,898.4C1945.7,906.1 1939.7,912.2 1934,920C1928.3,927.8 1922.5,934 1918,945C1913.5,956 1908.7,974.3 1907,986C1905.3,997.7 1906.5,1006 1908,1015C1909.5,1024 1910.3,1034.2 1916,1040C1921.7,1045.8 1932.5,1050.3 1942,1050C1951.5,1049.7 1961,1041.7 1973,1038C1985,1034.3 2000.7,1033.7 2014,1028C2027.3,1022.3 2038.7,1014.4 2053,1004C2067.3,993.6 2082.2,980.4 2100,965.6C2117.8,950.8 2143.3,895.9 2160,915C2176.7,934.1 2200,1025.8 2200,1080C2200,1134.2 2176.7,1221.2 2160,1240C2143.3,1258.8 2117.8,1206.3 2100,1193C2082.2,1179.7 2069.5,1169.8 2053,1160C2036.5,1150.2 2018.3,1139.5 2001,1134C1983.7,1128.5 1962.8,1125.3 1949,1127C1935.2,1128.7 1926.2,1134.7 1918,1144C1909.8,1153.3 1903.7,1170.5 1900,1183C1896.3,1195.5 1895.5,1205.2 1896,1219C1896.5,1232.8 1900.6,1252.5 1903,1266C1905.4,1279.5 1906.3,1284.2 1910.6,1300C1914.9,1315.8 1919.8,1337 1929,1361C1938.2,1385 1950.3,1412.3 1966,1444C1981.7,1475.7 2005.7,1521.3 2023,1551C2040.3,1580.7 2059.8,1606.5 2070,1622C2080.2,1637.5 2083,1638.2 2084,1644C2085,1649.8 2090,1656.8 2076,1657C2062,1657.2 2025,1649.2 2000,1645C1975,1640.8 1959.3,1637.7 1926,1632C1892.7,1626.3 1833.5,1616.7 1800,1611C1766.5,1605.3 1742.2,1603.2 1725,1598C1707.8,1592.8 1699.7,1593.5 1697,1580C1694.3,1566.5 1702,1536.8 1709,1517C1716,1497.2 1728.3,1481.5 1739,1461C1749.7,1440.5 1761.7,1420.8 1773,1394C1784.3,1367.2 1799.2,1323.5 1807,1300C1814.8,1276.5 1817.4,1267.3 1820,1253C1822.6,1238.7 1823.9,1228.2 1822.6,1214C1821.3,1199.8 1817.2,1180.5 1812,1167.5C1806.8,1154.5 1800.1,1142.8 1791.5,1136C1782.9,1129.2 1773.1,1127.3 1760.5,1127C1747.9,1126.7 1731.9,1128.5 1716,1134C1700.1,1139.5 1684.3,1147.1 1665,1160C1645.7,1172.9 1617.5,1197.3 1600,1211.5C1582.5,1225.7 1573.6,1235.3 1560,1245C1546.4,1254.7 1534.1,1262.2 1518.5,1269.9C1502.9,1277.7 1484.2,1286.8 1466.2,1291.6C1448.1,1296.5 1428.7,1299 1410,1299C1391.3,1299 1371.9,1296.5 1353.8,1291.6C1335.8,1286.8 1317.7,1279.3 1301.5,1269.9C1285.3,1260.6 1269.8,1248.7 1256.6,1235.4C1243.3,1222.2 1231.4,1206.7 1222.1,1190.5C1212.7,1174.3 1205.2,1156.2 1200.4,1138.2C1195.5,1120.1 1193,1100.7 1193,1082C1193,1063.3 1195.5,1043.9 1200.4,1025.8C1205.2,1007.8 1212.7,989.7 1222.1,973.5C1231.4,957.3 1243.3,941.8 1256.6,928.6C1269.8,915.3 1285.3,903.4 1301.5,894.1C1317.7,884.7 1335.8,877.2 1353.8,872.4C1371.9,867.5 1391.3,865 1410,865C1428.7,865 1448.1,867.5 1466.2,872.4C1484.2,877.2 1502.9,886.1 1518.5,894.1C1534.1,902 1546.4,910.2 1560,920C1573.6,929.8 1584.7,940.2 1600,953C1615.3,965.8 1636.9,985.5 1652,997C1667.1,1008.5 1675.9,1013.5 1690.6,1022C1705.3,1030.5 1724.3,1044.2 1740,1048C1755.7,1051.8 1773.7,1050.5 1785,1045C1796.3,1039.5 1803.5,1023.9 1808,1015C1812.5,1006.1 1812.2,1000.7 1812,991.5C1811.8,982.3 1811.3,972.2 1807,960C1802.7,947.8 1792.7,928.3 1786,918C1779.3,907.7 1773.8,905.7 1767,898.4C1760.2,891.1 1752.6,882.3 1745.4,874C1738.2,865.7 1731,857.3 1723.8,848.6C1716.6,839.9 1709,830.9 1702.3,822C1695.6,813.1 1689.2,804 1683.4,795C1677.6,786 1672.2,777 1667.3,768C1662.4,759 1658.1,750 1653.8,741C1649.5,732 1644.8,726.1 1641.5,714C1638.2,701.9 1634.7,681 1633.7,668.5Z" fill="#fff" transform="translate(0,-3)"/></g></g>
<path d="M1452,1490L1900,1533L1900,1545L1452,1502Z" fill="#626366"/><path d="M1405,1484L1452,1490L1452,1502L1410,1498Z" fill="#8a8b8e"/></g>
<g fill="#a3a4a7"><rect x="0" y="0" width="33" height="44.5" rx="11.5" transform="matrix(1 0.13 -0.853 0.522 1362 1506)"/><rect x="0" y="0" width="33" height="75" rx="11.5" transform="matrix(1 0.13 -0.853 0.522 1432.5 1503)"/><rect x="0" y="0" width="33" height="44.5" rx="11.5" transform="matrix(1 0.13 -0.853 0.522 1470 1520)"/><rect x="0" y="0" width="33" height="75" rx="11.5" transform="matrix(1 0.13 -0.853 0.522 1538 1517.6)"/><rect x="0" y="0" width="33.7" height="45.9" rx="11.7" transform="matrix(1 0.13 -0.853 0.522 1577.4 1535)"/><rect x="0" y="0" width="33.7" height="77.5" rx="11.7" transform="matrix(1 0.13 -0.853 0.522 1650 1531)"/><rect x="0" y="0" width="34.3" height="47.8" rx="12" transform="matrix(1 0.13 -0.853 0.522 1687 1549.5)"/><rect x="0" y="0" width="34.3" height="81.1" rx="12" transform="matrix(1 0.13 -0.853 0.522 1762 1545)"/><rect x="0" y="0" width="35" height="49.8" rx="12.2" transform="matrix(1 0.13 -0.853 0.522 1802 1563)"/></g>
<clipPath id="cfsl"><rect x="0" y="0" width="33" height="44.5" rx="11.5" transform="matrix(1 0.13 -0.853 0.522 1362 1506)"/><rect x="0" y="0" width="33" height="75" rx="11.5" transform="matrix(1 0.13 -0.853 0.522 1432.5 1503)"/><rect x="0" y="0" width="33" height="44.5" rx="11.5" transform="matrix(1 0.13 -0.853 0.522 1470 1520)"/><rect x="0" y="0" width="33" height="75" rx="11.5" transform="matrix(1 0.13 -0.853 0.522 1538 1517.6)"/><rect x="0" y="0" width="33.7" height="45.9" rx="11.7" transform="matrix(1 0.13 -0.853 0.522 1577.4 1535)"/><rect x="0" y="0" width="33.7" height="77.5" rx="11.7" transform="matrix(1 0.13 -0.853 0.522 1650 1531)"/><rect x="0" y="0" width="34.3" height="47.8" rx="12" transform="matrix(1 0.13 -0.853 0.522 1687 1549.5)"/><rect x="0" y="0" width="34.3" height="81.1" rx="12" transform="matrix(1 0.13 -0.853 0.522 1762 1545)"/><rect x="0" y="0" width="35" height="49.8" rx="12.2" transform="matrix(1 0.13 -0.853 0.522 1802 1563)"/></clipPath><g clip-path="url(#cfsl)"><g transform="translate(1.5,4)" fill="url(#fslot2)"><rect x="0" y="0" width="33" height="44.5" rx="11.5" transform="matrix(1 0.13 -0.853 0.522 1362 1506)"/><rect x="0" y="0" width="33" height="75" rx="11.5" transform="matrix(1 0.13 -0.853 0.522 1432.5 1503)"/><rect x="0" y="0" width="33" height="44.5" rx="11.5" transform="matrix(1 0.13 -0.853 0.522 1470 1520)"/><rect x="0" y="0" width="33" height="75" rx="11.5" transform="matrix(1 0.13 -0.853 0.522 1538 1517.6)"/><rect x="0" y="0" width="33.7" height="45.9" rx="11.7" transform="matrix(1 0.13 -0.853 0.522 1577.4 1535)"/><rect x="0" y="0" width="33.7" height="77.5" rx="11.7" transform="matrix(1 0.13 -0.853 0.522 1650 1531)"/><rect x="0" y="0" width="34.3" height="47.8" rx="12" transform="matrix(1 0.13 -0.853 0.522 1687 1549.5)"/><rect x="0" y="0" width="34.3" height="81.1" rx="12" transform="matrix(1 0.13 -0.853 0.522 1762 1545)"/><rect x="0" y="0" width="35" height="49.8" rx="12.2" transform="matrix(1 0.13 -0.853 0.522 1802 1563)"/></g>
<path d="M1316,1534L1356,1508L1384,1511L1344,1537Z" fill="#f2f2f2"/><path d="M1360,1550L1396,1527L1406,1538L1398,1550L1380,1554Z" fill="#f2f2f2"/>
</g>
<path d="M1215.6,1557.5C1215.8,1553.1 1219.6,1549.7 1224,1550L1315,1555.3C1316.7,1555.4 1319.3,1555 1320.8,1554.4L1327.2,1552.1C1328.7,1551.5 1331.3,1551.1 1333,1551.3L1406.1,1559.2C1420.4,1560.8 1432.4,1573.6 1432.8,1588L1433.9,1622C1434,1623.7 1432.7,1624.8 1431,1624.5L1221.9,1591.3C1217.5,1590.6 1214.2,1586.4 1214.4,1582Z" fill="url(#fhook)"/><path d="M1472.7,1584C1472.3,1579.6 1475.5,1576.5 1479.9,1577.2L1600,1595.5L1674.2,1604.8C1688.4,1606.6 1700.2,1619.6 1700.5,1634L1700.9,1660C1701,1661.7 1699.7,1662.8 1698,1662.5L1483.9,1624.9C1479.5,1624.1 1475.7,1619.9 1475.3,1615.5Z" fill="url(#fhook)"/>
<path d="M1434,1608L1476,1613L1476,1623.5L1434,1625Z" fill="#8a8b8e" opacity=".0"/>
<text x="1373" y="245" font-size="50" fill="#7c7c7c" text-anchor="start" font-weight="normal" textLength="586" lengthAdjust="spacingAndGlyphs">Measurements are approx.</text>
<text x="1479" y="397" font-size="47" fill="#7c7c7c" text-anchor="start" font-weight="normal" textLength="296" lengthAdjust="spacingAndGlyphs">80cm / 31.50in</text>
<line x1="1296.6" y1="434" x2="1958.4" y2="434" stroke="#858585" stroke-width="3"/>
<path d="M1283,434L1300,450L1300,418Z" fill="#858585"/>
<path d="M1972,434L1955,450L1955,418Z" fill="#858585"/>
<line x1="1283" y1="397" x2="1283" y2="472" stroke="#858585" stroke-width="3.4" stroke-dasharray="5.5 5"/>
<line x1="1972" y1="397" x2="1972" y2="472" stroke="#858585" stroke-width="3.4" stroke-dasharray="5.5 5"/>
<text x="1501" y="929" font-size="47" fill="#7c7c7c" text-anchor="start" font-weight="normal" textLength="323" lengthAdjust="spacingAndGlyphs">15.47cm / 6.09in</text>
<line x1="1371.6" y1="967" x2="1956.4" y2="967" stroke="#858585" stroke-width="3"/>
<path d="M1358,967L1375,983L1375,951Z" fill="#858585"/>
<path d="M1970,967L1953,983L1953,951Z" fill="#858585"/>
<line x1="1358" y1="929" x2="1358" y2="1004" stroke="#858585" stroke-width="3.4" stroke-dasharray="5.5 5"/>
<line x1="1970" y1="929" x2="1970" y2="1004" stroke="#858585" stroke-width="3.4" stroke-dasharray="5.5 5"/>
<text x="1275" y="1189" font-size="47" fill="#7c7c7c" text-anchor="start" font-weight="normal" textLength="238" lengthAdjust="spacingAndGlyphs" transform="rotate(-90 1275 1189)">4cm / 1.57in</text>
<line x1="1317" y1="1033.8" x2="1317" y2="1104.2" stroke="#858585" stroke-width="3"/>
<path d="M1317,1021L1301,1037L1333,1037Z" fill="#858585"/>
<path d="M1317,1117L1301,1101L1333,1101Z" fill="#858585"/>
<line x1="1284" y1="1021" x2="1351" y2="1021" stroke="#858585" stroke-width="3.4" stroke-dasharray="5.5 5"/>
<line x1="1284" y1="1117" x2="1351" y2="1117" stroke="#858585" stroke-width="3.4" stroke-dasharray="5.5 5"/>
<text x="1035" y="1690" font-size="47" fill="#7c7c7c" text-anchor="start" font-weight="normal" textLength="290" lengthAdjust="spacingAndGlyphs" transform="rotate(-90 1035 1690)">5.57cm / 2.19in</text>
<line x1="1077.5" y1="1420.8" x2="1077.5" y2="1669.2" stroke="#858585" stroke-width="3"/>
<path d="M1077.5,1408L1061.5,1424L1093.5,1424Z" fill="#858585"/>
<path d="M1077.5,1682L1061.5,1666L1093.5,1666Z" fill="#858585"/>
<line x1="1045" y1="1407" x2="1111" y2="1407" stroke="#858585" stroke-width="3.4" stroke-dasharray="5.5 5"/>
<line x1="1045" y1="1683" x2="1111" y2="1683" stroke="#858585" stroke-width="3.4" stroke-dasharray="5.5 5"/>
<text x="331" y="1307" font-size="47" fill="#7c7c7c" text-anchor="start" font-weight="normal" textLength="288" lengthAdjust="spacingAndGlyphs" transform="rotate(5.5 331 1307)">26cm / 10.24in</text>
<line x1="150.5" y1="1235.2" x2="713.5" y2="1286.8" stroke="#858585" stroke-width="3"/>
<path d="M137,1234L152.5,1251.5L155.4,1219.6Z" fill="#858585"/>
<path d="M727,1288L708.6,1302.4L711.5,1270.5Z" fill="#858585"/>
<line x1="141" y1="1201" x2="132" y2="1266" stroke="#858585" stroke-width="3.4" stroke-dasharray="5.5 5"/>
<line x1="730" y1="1255" x2="723" y2="1320" stroke="#858585" stroke-width="3.4" stroke-dasharray="5.5 5"/>
<text x="858" y="1315" font-size="47" fill="#7c7c7c" text-anchor="start" font-weight="normal" textLength="302" lengthAdjust="spacingAndGlyphs" transform="rotate(-11.1 858 1315)">22.3cm / 8.78in</text>
<line x1="762.9" y1="1287.5" x2="1203.6" y2="1203.5" stroke="#858585" stroke-width="3"/>
<path d="M749.5,1290L769.2,1302.5L763.2,1271.1Z" fill="#858585"/>
<path d="M1217,1201L1203.3,1219.9L1197.3,1188.5Z" fill="#858585"/>
<line x1="743" y1="1255" x2="756" y2="1320" stroke="#858585" stroke-width="3.4" stroke-dasharray="5.5 5"/>
<line x1="1211" y1="1170" x2="1223" y2="1233" stroke="#858585" stroke-width="3.4" stroke-dasharray="5.5 5"/>
<text x="158" y="1852" font-size="61" fill="#828282" text-anchor="start" font-weight="normal" textLength="1023" lengthAdjust="spacingAndGlyphs" stroke="#828282" stroke-width="0.9">Transform your laptop into a workstation</text>
<text x="158" y="1974" font-size="61" fill="#828282" text-anchor="start" font-weight="normal" textLength="970" lengthAdjust="spacingAndGlyphs" stroke="#828282" stroke-width="0.9">Stay powered without the cable clutter</text>
<circle cx="130" cy="1832" r="7.5" fill="#828282"/><circle cx="130" cy="1954" r="7.5" fill="#828282"/>
</svg>
</body></html>
